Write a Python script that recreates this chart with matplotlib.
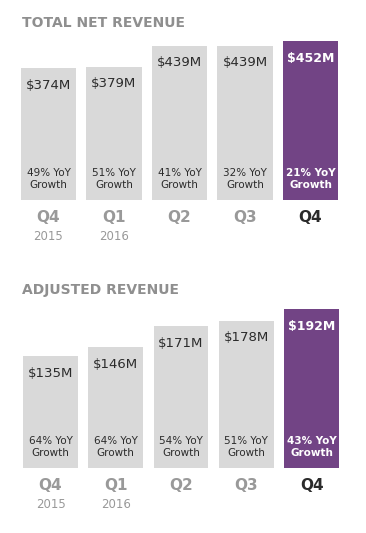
import matplotlib.pyplot as plt

quarters = ["Q4", "Q1", "Q2", "Q3", "Q4"]
years = ["2015", "2016", "", "", ""]

net_revenue = [374, 379, 439, 439, 452]
net_growth = [49, 51, 41, 32, 21]

adj_revenue = [135, 146, 171, 178, 192]
adj_growth = [64, 64, 54, 51, 43]

GRAY_BAR = "#d9d9d9"
PURPLE = "#724485"
TITLE_GRAY = "#8f8f8f"
LABEL_GRAY = "#999999"
DARK = "#2b2b2b"

plt.rcParams["font.family"] = ["DejaVu Sans"]

W, H = 366, 533
fig = plt.figure(figsize=(W / 100, H / 100), dpi=100)


def panel(rect, title, title_y, values, growth):
    ax = fig.add_axes(rect)
    n = len(values)
    colors = [GRAY_BAR] * (n - 1) + [PURPLE]
    ax.bar(range(n), values, width=0.84, color=colors)
    ax.set_xlim(-0.5, n - 0.5)
    ax.set_ylim(0, max(values))
    ax.axis("off")

    for i, (v, g) in enumerate(zip(values, growth)):
        last = i == n - 1
        col = "white" if last else DARK
        wt = "bold" if last else "normal"
        ax.annotate(f"${v}M", (i, v), xytext=(0, -17), textcoords="offset pixels",
                    ha="center", va="center", fontsize=9.5 if not last else 9,
                    color=col, weight=wt)
        ax.annotate(f"{g}% YoY", (i, 0), xytext=(0, 27), textcoords="offset pixels",
                    ha="center", va="center", fontsize=7.5, color=col, weight=wt)
        ax.annotate("Growth", (i, 0), xytext=(0, 15), textcoords="offset pixels",
                    ha="center", va="center", fontsize=7.5, color=col, weight=wt)
        ax.annotate(quarters[i], (i, 0), xytext=(0, -17), textcoords="offset pixels",
                    ha="center", va="center", fontsize=11, weight="bold",
                    color=DARK if last else LABEL_GRAY, annotation_clip=False)
        if years[i]:
            ax.annotate(years[i], (i, 0), xytext=(0, -37), textcoords="offset pixels",
                        ha="center", va="center", fontsize=8.5, color=LABEL_GRAY,
                        annotation_clip=False)

    fig.text(22 / W, 1 - title_y / H, title, ha="left", va="center",
             fontsize=10, weight="bold", color=TITLE_GRAY)
    return ax


panel([15.75 / W, (H - 200) / H, 327.5 / W, 159 / H],
      "TOTAL NET REVENUE", 23, net_revenue, net_growth)
panel([17.9 / W, (H - 468) / H, 326.3 / W, 159 / H],
      "ADJUSTED REVENUE", 290, adj_revenue, adj_growth)

fig.savefig("out.png", dpi=100)
